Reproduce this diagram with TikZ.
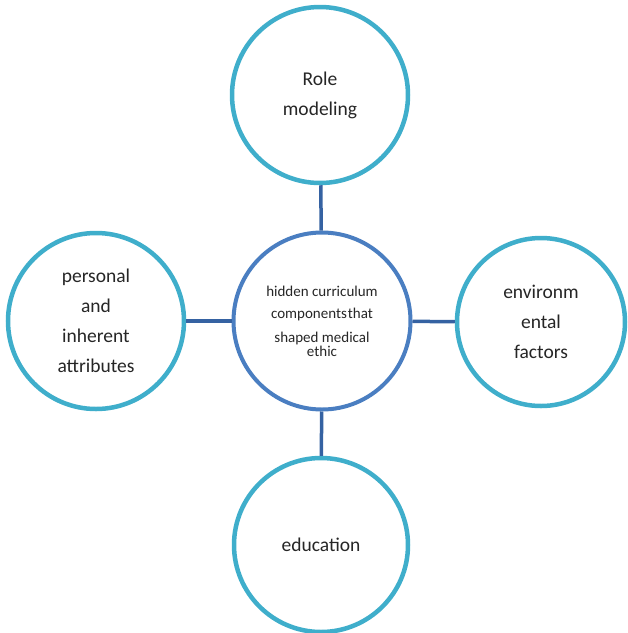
\documentclass[tikz,border=0pt]{standalone}
\usepackage{fontspec}
\setmainfont{Carlito}
\usepackage{xcolor}
\usepackage{tikz}
\usetikzlibrary{positioning}
\definecolor{ringteal}{HTML}{3FAECB}
\definecolor{ringblue}{HTML}{4A7EC1}
\definecolor{linkblue}{HTML}{3562A2}
\definecolor{inkgray}{HTML}{262626}
\tikzstyle{factor} = [circle, draw=ringteal, line width=4.5pt, fill=white, minimum size=176pt, inner sep=0pt, align=center, text=inkgray, font=\fontsize{19.5}{30}\selectfont]
\tikzstyle{hub} = [circle, draw=ringblue, line width=4pt, fill=white, minimum size=177pt, inner sep=0pt, align=center, text=inkgray, font=\fontsize{15}{22}\selectfont]
\tikzset{link/.style = {
    draw=linkblue,
    line width=3.5pt,
  }
}

\begin{document}
\begin{tikzpicture}[x=1pt, y=-1pt]
            \useasboundingbox (0,0) rectangle (628,633);
            % vertices
            \node[hub] (core) at (322 , 321) {hidden curriculum\\[0pt]components\hspace{1pt}that\\[2pt]shaped medical\\[-8pt]ethic};
            \node[factor] (role) at (320 , 95) {Role\\modeling};
            \node[factor] (personal) at (96 , 321) {personal\\and\\inherent\\attributes};
            \node[factor, minimum size=168pt] (environ) at (541 , 322) {environm\\ental\\factors};
            \node[factor, minimum size=174pt] (educ) at (321 , 545) {education};

            %edges
            \draw[link] (core) to (role);
            \draw[link] (core) to (personal);
            \draw[link] (core) to (environ);
            \draw[link] (core) to (educ);
          \end{tikzpicture}
\end{document}
